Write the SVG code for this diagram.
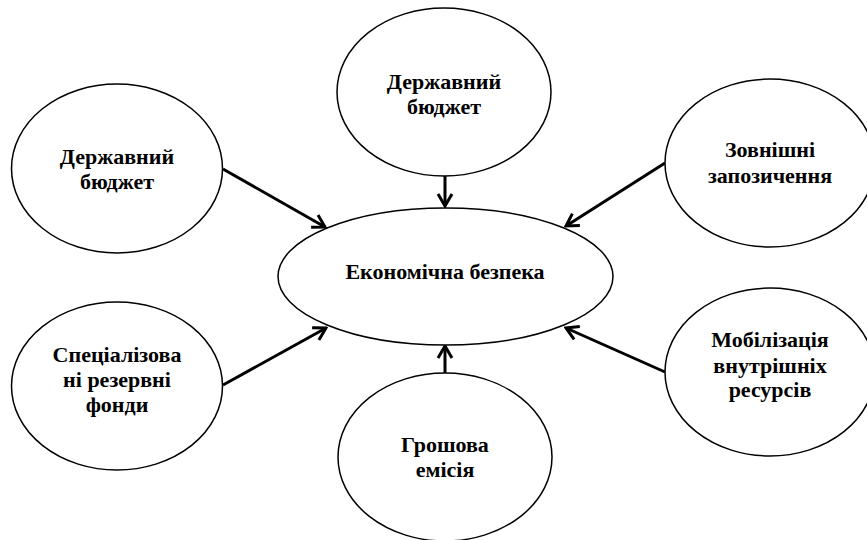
<svg xmlns="http://www.w3.org/2000/svg" width="867" height="540" viewBox="0 0 867 540">
  <style>
    .node ellipse { fill: #ffffff; stroke: #000000; stroke-width: 1.5; }
    .node text { font-family: "Liberation Serif", "Times New Roman", serif; font-weight: bold; font-size: 22px; fill: #000000; text-anchor: middle; }
    .edge { stroke: #000000; stroke-width: 3; fill: none; marker-end: url(#arrow); }
  </style>
  <defs>
    <marker id="arrow" markerUnits="userSpaceOnUse" markerWidth="16" markerHeight="18" viewBox="0 0 16 18" refX="14" refY="9" orient="auto">
      <path d="M2,2 L14,9 L2,16" fill="none" stroke="#000000" stroke-width="3" stroke-linejoin="miter"/>
    </marker>
  </defs>
  <rect width="867" height="540" fill="#ffffff"/>
  <g id="connectors">
    <line class="edge" x1="223" y1="169" x2="325" y2="227"/>
    <line class="edge" x1="445" y1="176" x2="445" y2="206"/>
    <line class="edge" x1="665" y1="163" x2="566" y2="226"/>
    <line class="edge" x1="223" y1="385" x2="326" y2="328"/>
    <line class="edge" x1="445" y1="373" x2="445" y2="346"/>
    <line class="edge" x1="665" y1="372" x2="566" y2="328"/>
  </g>
  <g id="node-center" class="node">
    <ellipse cx="445.5" cy="276.5" rx="167.5" ry="68.5"/>
    <text x="445" y="279">Економічна безпека</text>
  </g>
  <g id="node-budget-left" class="node">
    <ellipse cx="117" cy="168.5" rx="105.5" ry="84.5"/>
    <text x="117" y="164">Державний</text>
    <text x="117" y="189">бюджет</text>
  </g>
  <g id="node-budget-top" class="node">
    <ellipse cx="444" cy="92" rx="107" ry="84"/>
    <text x="444" y="89">Державний</text>
    <text x="444" y="114">бюджет</text>
  </g>
  <g id="node-external" class="node">
    <ellipse cx="770" cy="163" rx="105" ry="84"/>
    <text x="770" y="157">Зовнішні</text>
    <text x="770" y="183">запозичення</text>
  </g>
  <g id="node-reserve" class="node">
    <ellipse cx="117" cy="386" rx="105.5" ry="84"/>
    <text x="117" y="362">Спеціалізова</text>
    <text x="117" y="387">ні резервні</text>
    <text x="117" y="412">фонди</text>
  </g>
  <g id="node-emission" class="node">
    <ellipse cx="445" cy="457" rx="107" ry="84"/>
    <text x="445" y="452">Грошова</text>
    <text x="445" y="477">емісія</text>
  </g>
  <g id="node-mobilization" class="node">
    <ellipse cx="770" cy="372" rx="105" ry="84"/>
    <text x="770" y="347">Мобілізація</text>
    <text x="770" y="373">внутрішніх</text>
    <text x="770" y="397">ресурсів</text>
  </g>
</svg>
